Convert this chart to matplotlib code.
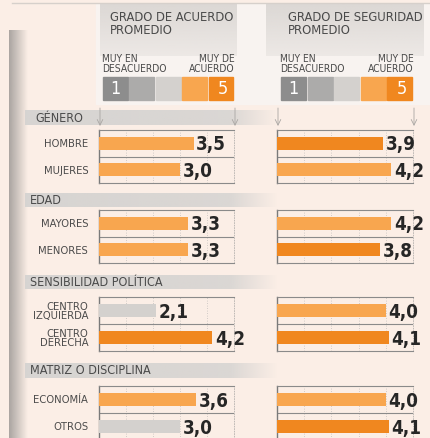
import numpy as np
import matplotlib
matplotlib.use("Agg")
import matplotlib.pyplot as plt
from matplotlib.patches import Rectangle
from matplotlib.transforms import blended_transform_factory

# datos
grupos = ["GÉNERO", "EDAD", "SENSIBILIDAD POLÍTICA", "MATRIZ O DISCIPLINA"]
categorias = [["HOMBRE", "MUJERES"],
              ["MAYORES", "MENORES"],
              ["CENTRO\nIZQUIERDA", "CENTRO\nDERECHA"],
              ["ECONOMÍA", "OTROS"]]
acuerdo = [[3.5, 3.0], [3.3, 3.3], [2.1, 4.2], [3.6, 3.0]]
seguridad = [[3.9, 4.2], [4.2, 3.8], [4.0, 4.1], [4.0, 4.1]]
# nivel de la escala 1-5 que da el color de cada barra
nivel_acuerdo = [[4, 4], [4, 4], [3, 5], [4, 3]]
nivel_seguridad = [[5, 4], [4, 5], [4, 5], [4, 5]]
titulos = ["GRADO DE ACUERDO\nPROMEDIO", "GRADO DE SEGURIDAD\nPROMEDIO"]
escala = [1, 2, 3, 4, 5]

colores = {1: "#8d8d8d", 2: "#acabaa", 3: "#d4d1ce", 4: "#f8a64f", 5: "#f0871f"}
fondo = "#fbeee6"
texto = "#4a4a4a"
linea = "#8a8a8a"
cond = dict(family="DejaVu Sans", fontstretch="condensed")

W, H = 431, 438
fig = plt.figure(figsize=(W / 100, H / 100), dpi=100, facecolor=fondo)

bg = fig.add_axes([0, 0, 1, 1])
bg.set_xlim(0, W)
bg.set_ylim(H, 0)
bg.axis("off")


def px_axes(x0, y0, x1, y1):
    return fig.add_axes([x0 / W, 1 - y1 / H, (x1 - x0) / W, (y1 - y0) / H])


def gradiente(ax, x0, x1, y0, y1, c, a0, a1, horizontal=True):
    rgb = matplotlib.colors.to_rgb(c)
    n = 64
    img = np.zeros((1, n, 4)) if horizontal else np.zeros((n, 1, 4))
    img[..., :3] = rgb
    alphas = np.linspace(a0, a1, n)
    if horizontal:
        img[0, :, 3] = alphas
    else:
        img[:, 0, 3] = alphas
    ax.imshow(img, extent=(x0, x1, y1, y0), aspect="auto", zorder=1,
              interpolation="bilinear")


# cabecera
bg.plot([12, W], [3, 3], color="#d6d0cb", lw=1, zorder=2)
bg.add_patch(Rectangle((96, 4), W - 96, 100, color="#f8f3f0", zorder=0.5))
# sombra lateral izquierda
gradiente(bg, 9, 28, 30, H, "#8f8c8a", 0.75, 0.0, horizontal=True)

paneles = [(99, 234), (277, 413)]
cajas_titulo = [(100, 237), (266, 424)]
for (x0, x1), (c0, c1), titulo in zip(paneles, cajas_titulo, titulos):
    gradiente(bg, c0, c1, 4, 56, "#d9d5d2", 0.9, 0.35, horizontal=False)
    bg.text(x0 + 11, 11, titulo, fontsize=9.3, color=texto, va="top",
            ha="left", linespacing=1.0, **cond)
    bg.text(x0 + 3, 64, "MUY EN\nDESACUERDO", fontsize=7.4, color=texto,
            va="center", ha="left", linespacing=0.9, **cond)
    bg.text(x1 + 1, 64, "MUY DE\nACUERDO", fontsize=7.4, color=texto,
            va="center", ha="right", linespacing=0.9, **cond)
    paso = (x1 + 1 - (x0 + 4)) / len(escala)
    for k, e in enumerate(escala):
        sx = x0 + 4 + k * paso
        bg.add_patch(Rectangle((sx, 77), paso - 1.5, 23, color=colores[e],
                               zorder=3))
        if e in (1, 5):
            bg.text(sx + (paso - 1.5) / 2 + (2 if e == 5 else 0), 89, str(e),
                    fontsize=13, color="white", ha="center", va="center",
                    zorder=4, **cond)
    for xa in (x0 + 1, x1 + 1):
        bg.annotate("", xy=(xa, 126), xytext=(xa, 108),
                    arrowprops=dict(arrowstyle="->", color="#a9a6a3", lw=0.6,
                                    shrinkA=0, shrinkB=0), zorder=3)

# bandas de grupo
bandas = [(110, 125), (193, 207), (275, 289), (363, 378)]
cajas = [(130, 183), (210, 263), (297, 351), (386, 440)]
x_texto_banda = [35, 30, 30, 30]
for g, (y0, y1) in enumerate(bandas):
    gradiente(bg, 25, 230, y0, y1, "#d5d3d1", 0.95, 0.85, horizontal=True)
    gradiente(bg, 230, 278, y0, y1, "#d5d3d1", 0.85, 0.0, horizontal=True)
    bg.text(x_texto_banda[g], (y0 + y1) / 2 + 0.5, grupos[g], fontsize=9,
            color=texto, va="center", ha="left", zorder=3, **cond)

# barras
for p, (datos, niveles) in enumerate([(acuerdo, nivel_acuerdo),
                                      (seguridad, nivel_seguridad)]):
    x0, x1 = paneles[p]
    for g, (y0, y1) in enumerate(cajas):
        ax = px_axes(x0, y0, x1, y1)
        ax.set_facecolor("none")
        vals = datos[g]
        pos = np.arange(len(vals))
        ax.barh(pos, vals, height=0.5,
                color=[colores[n] for n in niveles[g]], zorder=3)
        ax.set_xlim(0, 5)
        ax.set_ylim(len(vals) - 0.5, -0.5)
        for xg in range(1, 5):
            ax.axvline(xg, color="#c4c0bd", lw=0.6, ls=(0, (1, 2)), zorder=1)
        ax.axhline(0.5, color=linea, lw=0.8, zorder=2)
        for s in ("top", "bottom"):
            ax.spines[s].set_color(linea)
            ax.spines[s].set_linewidth(0.8)
        ax.spines["left"].set_color("#7a7a7a")
        ax.spines["left"].set_linewidth(1.0)
        ax.spines["right"].set_color("#b5b1ae")
        ax.spines["right"].set_linestyle((0, (1, 2)))
        ax.spines["right"].set_linewidth(0.6)
        ax.set_xticks([])
        ax.set_yticks([])
        for i, v in enumerate(vals):
            ax.text(v + 0.1, i + 0.06, f"{v:.1f}".replace(".", ","),
                    fontsize=13.5, fontweight="bold", color="#262626",
                    va="center", ha="left", zorder=4, clip_on=False, **cond)
        if p == 0:
            tr = blended_transform_factory(ax.transAxes, ax.transData)
            for i, cat in enumerate(categorias[g]):
                ax.text(-0.08, i + 0.03, cat, transform=tr, fontsize=8,
                        color=texto, ha="right", va="center",
                        multialignment="right", linespacing=0.95, **cond)

fig.savefig("out.png", dpi=100, facecolor=fondo)
